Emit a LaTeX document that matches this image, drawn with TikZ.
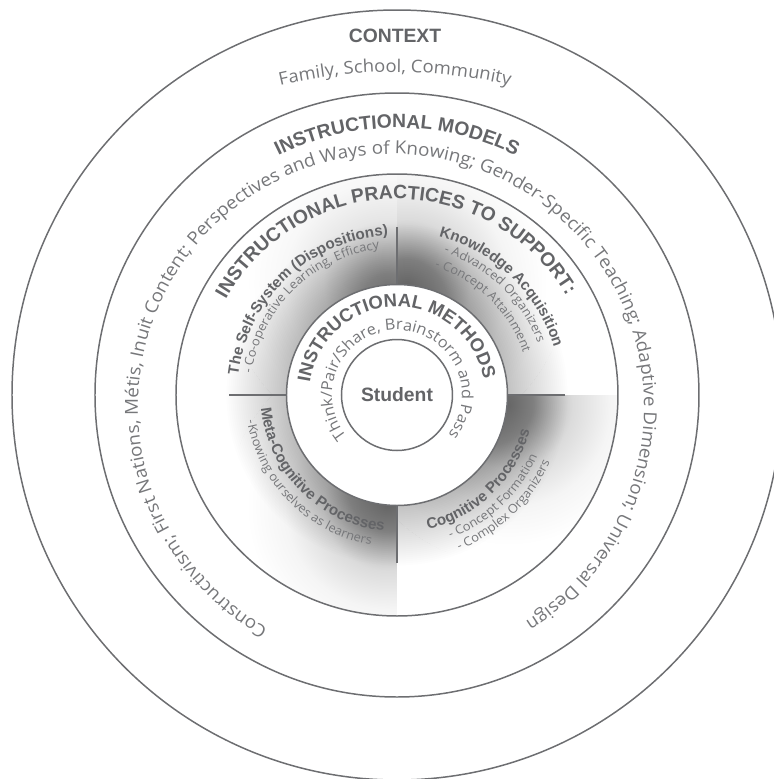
\documentclass[tikz,border=0pt]{standalone}
\usepackage{fontspec}
\setmainfont{Liberation Sans}
\newfontfamily\lightsans{Open Sans}[FakeStretch=1.05]
\usetikzlibrary{decorations.text}

\definecolor{ringline}{RGB}{109,110,113}
\definecolor{headgray}{RGB}{99,100,103}
\definecolor{bodygray}{RGB}{118,119,122}

\newcommand{\bigheadfont}{\fontsize{11}{13}\selectfont\bfseries}
\newcommand{\midheadfont}{\fontsize{10.5}{12}\selectfont\bfseries}
\newcommand{\contextfont}{\lightsans\fontsize{10}{12}\selectfont}
\newcommand{\ringtextfont}{\lightsans\fontsize{10.2}{12}\selectfont}
\newcommand{\methodtextfont}{\lightsans\fontsize{8.8}{11}\selectfont}
\newcommand{\quadheadfont}{\fontsize{8.6}{10}\selectfont\bfseries}
\newcommand{\quadtextfont}{\lightsans\fontsize{7}{9}\selectfont}

% shadow at the inner corner of each quadrant (25bp = edge of the circle)
\pgfdeclareradialshading{cornerdark}{\pgfpoint{0bp}{0bp}}{color(0bp)=(black!46); color(4bp)=(black!36); color(10bp)=(black!14); color(16bp)=(black!4); color(22bp)=(white); color(50bp)=(white)}
\pgfdeclareradialshading{cornerlight}{\pgfpoint{0bp}{0bp}}{color(0bp)=(black!34); color(4bp)=(black!26); color(10bp)=(black!10); color(16bp)=(black!3); color(22bp)=(white); color(50bp)=(white)}

\tikzset{
  ring/.style={draw=ringline, line width=0.85pt},
  divider/.style={draw=ringline, line width=1.2pt},
  bighead/.style={decorate, decoration={text along path, text align=center, text color=headgray, text={|\bigheadfont|#1}}},
  midhead/.style={decorate, decoration={text along path, text align=center, text color=headgray, text={|\midheadfont|#1}}},
  contexttext/.style={decorate, decoration={text along path, text align=center, text color=bodygray, text={|\contextfont|#1}}},
  ringtext/.style={decorate, decoration={text along path, text align=center, text color=bodygray, text={|\ringtextfont|#1}}},
  methodtext/.style={decorate, decoration={text along path, text align=center, text color=bodygray, text={|\methodtextfont|#1}}},
  quadhead/.style={decorate, decoration={text along path, text align=center, text color=headgray, text={|\quadheadfont|#1}}},
  quadtext/.style={decorate, decoration={text along path, text align=center, text color=bodygray, text={|\quadtextfont|#1}}},
}

\begin{document}
\begin{tikzpicture}[x=0.02cm, y=0.02cm]
  \useasboundingbox (-397,-384) rectangle (377,395);
  \clip (-397,-384) rectangle (377,395);

  % quadrants of the practices ring
  \foreach \ang/\spot/\shname in {0/85/cornerdark, 90/95/cornerlight, 180/265/cornerdark, 270/355/cornerdark}{
    \begin{scope}
      \clip (\ang:110.5) arc[start angle=\ang, end angle=\ang+90, radius=110.5]
        -- (\ang+90:221) arc[start angle=\ang+90, end angle=\ang, radius=221] -- cycle;
      \shade[shading=\shname] (\spot:112) circle (160);
    \end{scope}
  }
  \foreach \k in {1,...,30}
    \fill[black, opacity=0.007] (0,0) circle (110.5+2*\k);

  \draw[ring] (0,0) circle (385);
  \draw[ring] (0,0) circle (302);
  \draw[ring] (0,0) circle (221);
  \draw[ring, fill=white] (0,0) circle (110.5);
  \draw[ring] (0,0) circle (55.5);

  \foreach \ang in {0,90,180,270}
    \draw[divider] (\ang:110.5) -- (\ang:168);

  % outer rings
  \node[font=\bigheadfont, text=headgray] (context) at (-2,359) {CONTEXT};
  \path[contexttext={Family, School, Community}] ([shift={(-2,-180)}]106:503) arc[start angle=106, end angle=74, radius=503];

  \path[bighead={INSTRUCTIONAL MODELS}] (135:267) arc[start angle=135, end angle=45, radius=267];
  \path[ringtext={Constructivism; First Nations, Métis, Inuit Content; Perspectives and Ways of Knowing; Gender-Specific Teaching; Adaptive Dimension; Universal Design}]
    ([shift={(-6,-12)}]261.5:253) arc[start angle=261.5, end angle=-78.5, radius=253];

  \path[bighead={INSTRUCTIONAL PRACTICES TO SUPPORT:}] (170.5:196) arc[start angle=170.5, end angle=10.5, radius=196];

  % quadrants
  \path[quadhead={The Self-System (Dispositions)}] (183:160) arc[start angle=183, end angle=83, radius=160];
  \path[quadtext={- Co-operative Learning, Efficacy}] (184.3:147) arc[start angle=184.3, end angle=84.3, radius=147];

  \path[quadhead={Knowledge Acquisition}] (91:164) arc[start angle=91, end angle=1, radius=164];
  \path[quadtext={- Advanced Organizers}] (91:150) arc[start angle=91, end angle=1, radius=150];
  \path[quadtext={- Concept Attainment}] (91:133) arc[start angle=91, end angle=1, radius=133];

  \path[quadhead={Meta-Cognitive Processes}] (175:136.5) arc[start angle=175, end angle=275, radius=136.5];
  \path[quadtext={-Knowing ourselves as learners}] (175:152) arc[start angle=175, end angle=275, radius=152];

  \path[quadhead={Cognitive Processes}] (269:137.5) arc[start angle=269, end angle=359, radius=137.5];
  \path[quadtext={- Concept Formation}] (268.5:153) arc[start angle=268.5, end angle=358.5, radius=153];
  \path[quadtext={- Complex Organizers}] (269:167) arc[start angle=269, end angle=359, radius=167];

  % methods and student
  \path[midhead={INSTRUCTIONAL METHODS}] (191:88) arc[start angle=191, end angle=-9, radius=88];
  \path[methodtext={Think/Pair/Share, Brainstorm and Pass}] (260.5:65) arc[start angle=260.5, end angle=-79.5, radius=65];

  \node[font=\bigheadfont, text=headgray] (student) at (0,0) {Student};
\end{tikzpicture}
\end{document}
